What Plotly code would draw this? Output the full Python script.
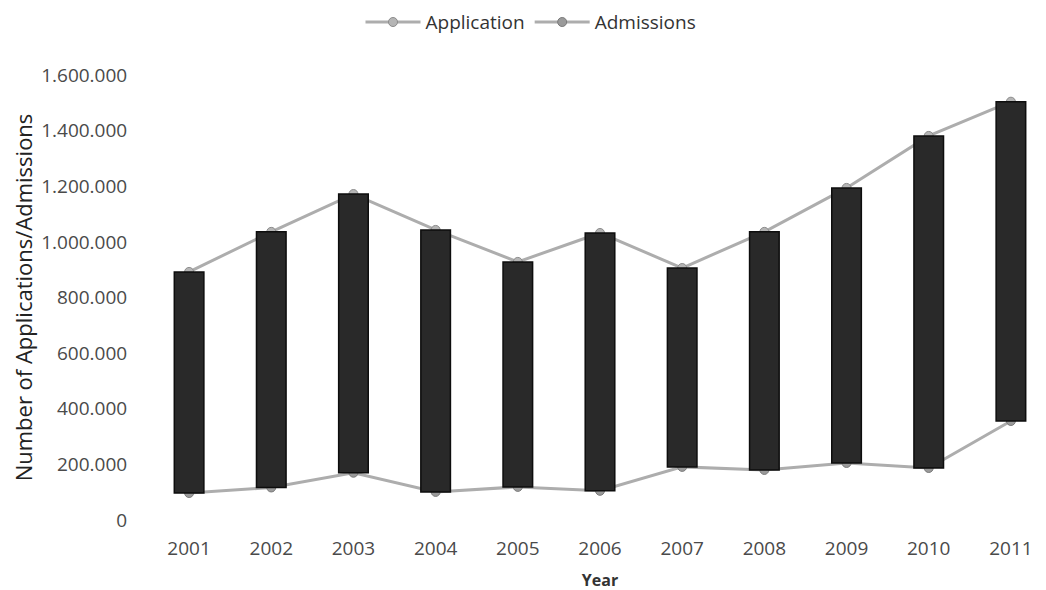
import plotly.graph_objects as go

years = ["2001", "2002", "2003", "2004", "2005", "2006", "2007", "2008", "2009", "2010", "2011"]
applications = [892000, 1036000, 1172000, 1043000, 928000, 1032000, 906000, 1036000, 1194000, 1381000, 1504000]
admissions = [97000, 117000, 170000, 101000, 119000, 105000, 191000, 180000, 205000, 187000, 356000]

y_ticks = [0, 200000, 400000, 600000, 800000, 1000000, 1200000, 1400000, 1600000]

font_family = "Open Sans, Liberation Sans, sans-serif"
line_color = "#adadad"

fig = go.Figure()

fig.add_trace(go.Scatter(
    x=years, y=applications, name="Application", mode="lines+markers",
    line=dict(color=line_color, width=3),
    marker=dict(symbol="circle", size=9, color="#b5b5b5", line=dict(color="#8c8c8c", width=1)),
    xaxis="x", yaxis="y",
))
fig.add_trace(go.Scatter(
    x=years, y=admissions, name="Admissions", mode="lines+markers",
    line=dict(color=line_color, width=3),
    marker=dict(symbol="circle", size=9, color="#9a9a9a", line=dict(color="#7a7a7a", width=1)),
    xaxis="x", yaxis="y",
))

fig.add_trace(go.Bar(
    x=years,
    y=[a - b for a, b in zip(applications, admissions)],
    base=admissions,
    width=0.36,
    marker=dict(color="#292929", line=dict(color="#0d0d0d", width=1.5)),
    showlegend=False,
    hoverinfo="skip",
    xaxis="x2", yaxis="y2",
))

axis_x = dict(
    type="category", range=[-0.5, 10.5], showgrid=False, zeroline=False,
    showline=False, ticks="outside", ticklen=11, tickcolor="rgba(0,0,0,0)",
)

fig.update_layout(
    width=1046, height=590,
    paper_bgcolor="white", plot_bgcolor="white",
    margin=dict(l=140, r=2, t=67, b=78),
    separators=",.",
    font=dict(family=font_family, size=14, color="#333333"),
    showlegend=True,
    legend=dict(orientation="h", x=0.5, xref="container", xanchor="center",
                y=0.976, yref="container", yanchor="middle", itemwidth=55,
                font=dict(size=19, color="#333333"), traceorder="normal"),
    xaxis=dict(
        **axis_x,
        tickfont=dict(size=19, color="#4a4a4a"),
        title=dict(text="<b>Year</b>", font=dict(size=16, color="#333333"), standoff=15),
    ),
    yaxis=dict(
        range=[0, 1600000], tickvals=y_ticks, tickformat=",d",
        showgrid=False, zeroline=False, showline=False,
        ticks="outside", ticklen=16, tickcolor="rgba(0,0,0,0)",
        tickfont=dict(size=19, color="#4a4a4a"),
        title=dict(text="Number of Applications/Admissions",
                   font=dict(size=22, color="#222222"), standoff=4),
    ),
    xaxis2=dict(**axis_x, overlaying="x", showticklabels=False, visible=False),
    yaxis2=dict(range=[0, 1600000], overlaying="y", showgrid=False, zeroline=False,
                showticklabels=False, visible=False),
)

fig.write_html("out.html")
